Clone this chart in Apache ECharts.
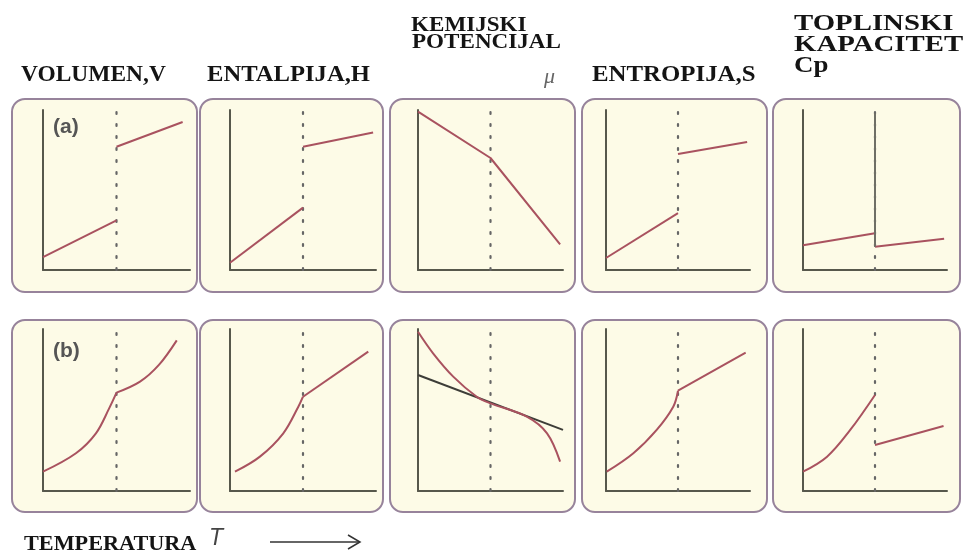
<!DOCTYPE html>
<html>
<head>
<meta charset="utf-8">
<script src="https://cdn.jsdelivr.net/npm/echarts@6/dist/echarts.min.js"></script>
<style>
  html, body { margin: 0; padding: 0; background: #fff; }
  #chart { width: 966px; height: 556px; }
</style>
</head>
<body>
<div id="chart"></div>
<script>
// transition temperature (dotted line), axes run 0..10
const transitionT = 5;

// row (a): first-order transition
const volA1 = [[0, 0.8], [5, 3.1]];
const volA2 = [[5, 7.7], [9.5, 9.25]];
const entA1 = [[0, 0.45], [5, 3.9]];
const entA2 = [[5, 7.7], [9.8, 8.6]];
const muA = [[0, 9.9], [5, 7.0], [9.8, 1.6]];
const sA1 = [[0, 0.75], [5, 3.55]];
const sA2 = [[5, 7.25], [9.8, 8.0]];
const cpA1 = [[0, 1.55], [5, 2.3]];
const cpSpike = [[5, 9.8], [5, 1.45]];
const cpA2 = [[5, 1.45], [9.8, 1.95]];

// row (b): second-order transition
const volB1 = [[0, 1.19], [2.24, 2.33], [3.6, 3.56], [4.5, 5.1], [5, 6.07]];
const volB2 = [[5, 6.07], [6.6, 6.75], [7.9, 7.8], [9.1, 9.3]];
const entB1 = [[0.34, 1.19], [2.05, 2.12], [3.65, 3.56], [4.68, 5.2], [5, 5.82]];
const entB2 = [[5, 5.82], [9.47, 8.6]];
const muB = [[0, 9.83], [1.04, 8.5], [2.43, 7.06], [4.05, 5.82], [5, 5.41], [7.5, 4.59], [8.9, 3.56], [9.8, 1.81]];
const muTangent = [[0, 7.16], [10, 3.77]];
const sB1 = [[0.05, 1.19], [1.9, 2.33], [3.52, 3.77], [4.67, 5.2], [5, 6.19]];
const sB2 = [[5, 6.19], [9.7, 8.54]];
const cpB1 = [[0, 1.19], [1.67, 2.12], [3.28, 3.77], [5, 5.93]];
const cpB2 = [[5, 2.84], [9.76, 4.01]];

const red = '#a9525f';
const axisColor = '#57584c';

// panel boxes [left, right]
const panelX = [[12, 197], [200, 383], [390, 575], [582, 767], [773, 960]];
const panelY = [[99, 292], [320, 512]];
// plot area [left, right] per column, [top, bottom] per row
const plotX = [[43, 190], [230, 376], [418, 563], [606, 750], [803, 947]];
const plotY = [[110, 270], [329, 491]];

const grids = [], xAxes = [], yAxes = [], series = [];
const graphics = [];

for (let r = 0; r < 2; r++) {
  for (let c = 0; c < 5; c++) {
    graphics.push({
      type: 'rect', z: -10,
      shape: { x: panelX[c][0], y: panelY[r][0], width: panelX[c][1] - panelX[c][0], height: panelY[r][1] - panelY[r][0], r: 13 },
      style: { fill: '#fdfbe7', stroke: '#97839b', lineWidth: 2 }
    });
    grids.push({
      left: plotX[c][0], top: plotY[r][0],
      width: plotX[c][1] - plotX[c][0], height: plotY[r][1] - plotY[r][0]
    });
    const gi = grids.length - 1;
    const ax = {
      type: 'value', gridIndex: gi, min: 0, max: 10,
      axisLabel: { show: false }, axisTick: { show: false }, splitLine: { show: false },
      axisLine: { show: true, onZero: false, lineStyle: { color: axisColor, width: 2 } }
    };
    xAxes.push(ax);
    yAxes.push(Object.assign({}, ax));
    series.push({
      type: 'line', xAxisIndex: gi, yAxisIndex: gi, symbol: 'none', silent: true,
      data: [[transitionT, 0], [transitionT, 10]],
      lineStyle: { color: '#666', width: 2.2, type: [2, 10], cap: 'round' }
    });
  }
}

function addLine(gi, data, smooth, color) {
  series.push({
    type: 'line', xAxisIndex: gi, yAxisIndex: gi, symbol: 'none', silent: true,
    smooth: smooth ? 0.35 : false, data: data, z: 3,
    lineStyle: { color: color || red, width: 2 }
  });
}

addLine(0, volA1); addLine(0, volA2);
addLine(1, entA1); addLine(1, entA2);
addLine(2, muA);
addLine(3, sA1); addLine(3, sA2);
addLine(4, cpA1); addLine(4, cpA2); addLine(4, cpSpike, false, '#6f6f66');

addLine(5, volB1, true); addLine(5, volB2, true);
addLine(6, entB1, true); addLine(6, entB2);
addLine(7, muTangent, false, '#3d3d38'); addLine(7, muB, true);
addLine(8, sB1, true); addLine(8, sB2);
addLine(9, cpB1, true); addLine(9, cpB2);

const serif = '"Liberation Serif", "Times New Roman", serif';
function headText(text, x, y, font, fill, sx) {
  graphics.push({
    type: 'text', x: x, y: y, scaleX: sx || 1,
    style: { text: text, font: font, fill: fill || '#141414', verticalAlign: 'middle', align: 'left' }
  });
}
headText('VOLUMEN,V', 21, 75, 'bold 23px ' + serif, null, 1.02);
headText('ENTALPIJA,H', 207, 75, 'bold 23px ' + serif, null, 1.07);
headText('KEMIJSKI', 411, 25.5, 'bold 21px ' + serif, null, 1.1);
headText('POTENCIJAL', 412, 43, 'bold 21px ' + serif, null, 1.1);
headText('μ', 544, 77, 'italic 22px ' + serif, '#666');
headText('ENTROPIJA,S', 592, 75, 'bold 23px ' + serif, null, 1.08);
headText('TOPLINSKI', 794, 23.5, 'bold 24px ' + serif, null, 1.2);
headText('KAPACITET', 794, 44.5, 'bold 24px ' + serif, null, 1.2);
headText('Cp', 794, 65.5, 'bold 24px ' + serif, null, 1.12);
headText('TEMPERATURA', 24, 544, 'bold 22px ' + serif, null, 1.01);
headText('T', 209, 539, 'italic 23px "Liberation Sans", Arial, sans-serif', '#444');
headText('(a)', 53, 127, 'bold 21px "Liberation Sans", Arial, sans-serif', '#555');
headText('(b)', 53, 351, 'bold 21px "Liberation Sans", Arial, sans-serif', '#555');

// arrow after T
graphics.push({ type: 'line', shape: { x1: 270, y1: 542, x2: 359, y2: 542 }, style: { stroke: '#333', lineWidth: 1.5 } });
graphics.push({ type: 'polyline', shape: { points: [[348, 535], [360, 542], [348, 549]] }, style: { stroke: '#333', lineWidth: 1.5, fill: null } });

const chart = echarts.init(document.getElementById('chart'));
chart.setOption({
  animation: false,
  grid: grids,
  xAxis: xAxes,
  yAxis: yAxes,
  series: series,
  graphic: graphics
});
</script>
</body>
</html>
